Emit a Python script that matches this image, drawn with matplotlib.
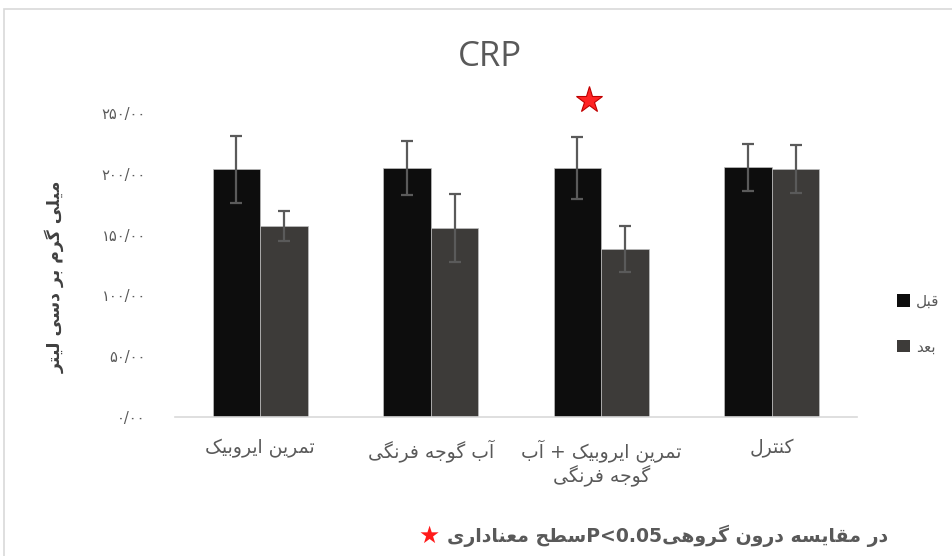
import re
import numpy as np
import matplotlib
matplotlib.use('Agg')
import matplotlib.pyplot as plt
from matplotlib.patches import Rectangle, Patch

# Persian letters -> presentation forms (isolated, final, initial, medial)
FORMS = {
    'ا': (0xFE8D, 0xFE8E, None, None),
    'آ': (0xFE81, 0xFE82, None, None),
    'د': (0xFEA9, 0xFEAA, None, None),
    'ر': (0xFEAD, 0xFEAE, None, None),
    'و': (0xFEED, 0xFEEE, None, None),
    'ب': (0xFE8F, 0xFE90, 0xFE91, 0xFE92),
    'ت': (0xFE95, 0xFE96, 0xFE97, 0xFE98),
    'ج': (0xFE9D, 0xFE9E, 0xFE9F, 0xFEA0),
    'ح': (0xFEA1, 0xFEA2, 0xFEA3, 0xFEA4),
    'س': (0xFEB1, 0xFEB2, 0xFEB3, 0xFEB4),
    'ط': (0xFEC1, 0xFEC2, 0xFEC3, 0xFEC4),
    'ع': (0xFEC9, 0xFECA, 0xFECB, 0xFECC),
    'ف': (0xFED1, 0xFED2, 0xFED3, 0xFED4),
    'ق': (0xFED5, 0xFED6, 0xFED7, 0xFED8),
    'ل': (0xFEDD, 0xFEDE, 0xFEDF, 0xFEE0),
    'م': (0xFEE1, 0xFEE2, 0xFEE3, 0xFEE4),
    'ن': (0xFEE5, 0xFEE6, 0xFEE7, 0xFEE8),
    'ه': (0xFEE9, 0xFEEA, 0xFEEB, 0xFEEC),
    'ی': (0xFBFC, 0xFBFD, 0xFBFE, 0xFBFF),
    'ک': (0xFB8E, 0xFB8F, 0xFB90, 0xFB91),
    'گ': (0xFB92, 0xFB93, 0xFB94, 0xFB95),
}
LTR = r'[A-Za-z0-9.<>]+'


def shape(s):
    out = []
    for i, ch in enumerate(s):
        if ch not in FORMS:
            out.append(ch)
            continue
        iso, fin, ini, med = FORMS[ch]
        prev = s[i - 1] if i > 0 else ''
        nxt = s[i + 1] if i + 1 < len(s) else ''
        jp = prev in FORMS and FORMS[prev][2] is not None
        jn = ini is not None and nxt in FORMS
        if jp and jn:
            code = med
        elif jp:
            code = fin
        elif jn:
            code = ini
        else:
            code = iso
        out.append(chr(code))
    return ''.join(out)


def fa(text):
    lines = []
    for line in text.split('\n'):
        parts = re.split('(' + LTR + ')', shape(line))
        vis = ''.join(p if re.fullmatch(LTR, p) else p[::-1] for p in reversed(parts))
        lines.append(vis)
    return '\n'.join(lines)


# data
groups = ['تمرین ایروبیک', 'آب گوجه فرنگی', 'تمرین ایروبیک + آب\nگوجه فرنگی', 'کنترل']
before = [204.0, 205.3, 204.8, 205.6]
before_err = [27.8, 22.3, 25.6, 19.3]
after = [157.2, 155.5, 138.0, 204.2]
after_err = [12.4, 28.3, 19.1, 19.8]
series_names = ['قبل', 'بعد']
yticks = [0, 50, 100, 150, 200, 250]
ytick_labels = ['۰/۰۰', '۵۰/۰۰', '۱۰۰/۰۰', '۱۵۰/۰۰', '۲۰۰/۰۰', '۲۵۰/۰۰']
title = 'CRP'
ylabel = 'میلی گرم بر دسی لیتر'
note = 'در مقایسه درون گروهیP<0.05سطح معناداری'

c_before = '#0d0d0d'
c_after = '#3d3b39'
txt = '#595959'

W, H = 953, 556
fig = plt.figure(figsize=(W / 100, H / 100), dpi=100)
ax = fig.add_axes([175 / W, 1 - 416.5 / H, 682 / W, 303 / H])

x = np.arange(len(groups))
w = 0.28
err_kw = dict(ecolor='#5a5a5a', elinewidth=1.6, capsize=4.5, capthick=1.6)
ax.bar(x - w / 2, before, w, yerr=before_err, color=c_before,
       edgecolor='#bfbfbf', linewidth=0.5, error_kw=err_kw, zorder=2)
ax.bar(x + w / 2, after, w, yerr=after_err, color=c_after,
       edgecolor='#bfbfbf', linewidth=0.5, error_kw=err_kw, zorder=2)

ax.set_xlim(-0.5, len(groups) - 0.5)
ax.set_ylim(0, 250)
ax.set_yticks(yticks)
ax.set_yticklabels(ytick_labels, color=txt, fontsize=10.5, family='DejaVu Sans')
ax.set_xticks(x)
ax.set_xticklabels([fa(g) for g in groups], color=txt, fontsize=13.5,
                   linespacing=1.25, va='top')
ax.tick_params(axis='y', length=0, pad=21)
ax.tick_params(axis='x', length=0, pad=16)
for side in ['top', 'right', 'left']:
    ax.spines[side].set_visible(False)
ax.spines['bottom'].set_color('#d9d9d9')
ax.spines['bottom'].set_linewidth(1.2)

# significance marker over the combined group
ax.plot([2 - 0.07], [261], marker='*', markersize=20, color='#ff2424',
        markeredgecolor='#c00000', markeredgewidth=0.8, clip_on=False, zorder=5)

fig.text(490 / W, 1 - 57 / H, title, ha='center', va='center',
         fontsize=25, color=txt, family='Open Sans')
fig.text(55 / W, 1 - 277 / H, fa(ylabel), rotation=90, ha='center', va='center',
         fontsize=12.5, fontweight='bold', color='#404040')

handles = [Patch(facecolor=c_before), Patch(facecolor=c_after)]
fig.legend(handles, [fa(s) for s in series_names], loc='center left',
           bbox_to_anchor=(897 / W, 1 - 324 / H), frameon=False, fontsize=11,
           handlelength=0.85, handleheight=0.85, handletextpad=0.4,
           labelspacing=2.0, borderpad=0, borderaxespad=0, labelcolor=txt)

t = fig.text(888 / W, 1 - 536 / H, fa(note), ha='right', va='center',
             fontsize=13.6, fontweight='bold', color=txt)
ax.annotate('★', xy=(0, 0.5), xycoords=t, xytext=(-5, 0), textcoords='offset points',
            ha='right', va='center', fontsize=17, color='#ff1a1a')

# chart frame
fig.add_artist(Rectangle((4 / W, -0.1), 1.2, 1.1 - 9 / H, transform=fig.transFigure,
                         fill=False, edgecolor='#d9d9d9', linewidth=1.2))

fig.savefig('out.png', dpi=100)
